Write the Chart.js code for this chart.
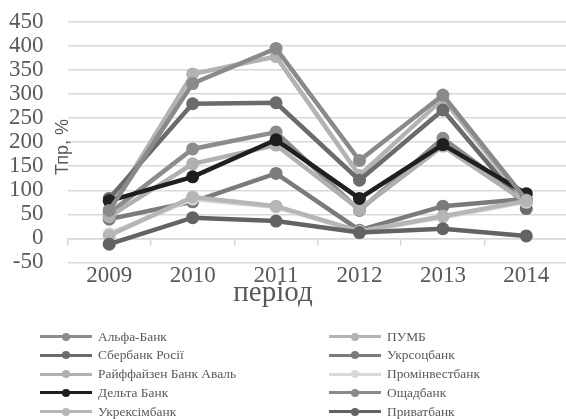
<!DOCTYPE html>
<html><head><meta charset="utf-8">
<script src="https://cdn.jsdelivr.net/npm/chart.js@4"></script>
<style>
html,body{margin:0;padding:0;overflow:hidden;background:#fff;width:566px;height:419px}
#wrap{position:relative;width:568px;height:419px}
#c{position:absolute;left:0;top:0}
#legend{position:absolute;left:0;top:0;width:566px;height:419px;pointer-events:none;font-family:"Liberation Serif","Times New Roman",serif;font-size:13.4px;color:#595959}
.item{position:absolute;height:18px;display:flex;align-items:center;white-space:nowrap}
.sample{position:relative;width:52px;height:10px;margin-right:6px}
.sample .ln{position:absolute;left:0;right:0;top:3.5px;height:3px}
.sample .dt{position:absolute;left:22px;top:1px;width:8px;height:8px;border-radius:50%}
</style></head><body>
<div id="wrap"><canvas id="c" width="568" height="419" style="width:568px;height:419px"></canvas><div id="legend"></div></div>
<script>
// ---- data ----
const years = ['2009','2010','2011','2012','2013','2014'];
const bankNames = ['Альфа-Банк','ПУМБ','Сбербанк Росії','Укрсоцбанк','Райффайзен Банк Аваль','Промінвестбанк','Дельта Банк','Ощадбанк','Укрексімбанк','Приватбанк'];
const alfaBank      = [52, 186, 221, 58, 208, 80];
const pumb          = [60, 342, 378, 131, 290, 75];
const sberbank      = [83, 280, 282, 121, 267, 62];
const ukrsotsbank   = [40, 76, 135, 17, 67, 82];
const raiffeisen    = [45, 155, 194, 60, 192, 75];
const prominvest    = [10, 82, 65, 14, 44, 76];
const deltaBank     = [78, 128, 205, 83, 195, 93];
const oschadbank    = [58, 322, 395, 162, 298, 80];
const ukreximbank   = [6, 86, 67, 15, 46, 78];
const privatbank    = [-12, 43, 36, 12, 20, 5];
const seriesValues = [alfaBank, pumb, sberbank, ukrsotsbank, raiffeisen, prominvest, deltaBank, oschadbank, ukreximbank, privatbank];
const seriesColors = ['#8c8c8c','#b3b3b3','#6b6b6b','#7b7b7b','#b0b0b0','#d9d9d9','#1f1f1f','#8a8a8a','#b6b6b6','#636363'];
const yMin = -50, yMax = 450, yStep = 50;
const yTitle = 'Тпр, %';
const xTitle = 'період';

const datasets = seriesValues.map((vals, i) => ({
  label: bankNames[i],
  data: vals,
  borderColor: seriesColors[i],
  backgroundColor: seriesColors[i],
  pointBackgroundColor: seriesColors[i],
  pointBorderColor: seriesColors[i],
  borderWidth: 4.5,
  pointRadius: 6.5,
  pointBorderWidth: 0,
  tension: 0,
  fill: false,
  order: seriesValues.length - i
}));

const titles = {
  id: 'titles',
  afterDraw(chart) {
    const ctx = chart.ctx;
    ctx.save();
    ctx.fillStyle = '#595959';
    ctx.textAlign = 'center';
    ctx.textBaseline = 'middle';
    ctx.font = '18px "Liberation Sans", Arial, sans-serif';
    ctx.translate(63, 147);
    ctx.rotate(-Math.PI / 2);
    ctx.fillText(yTitle, 0, 0);
    ctx.restore();
    ctx.save();
    ctx.fillStyle = '#595959';
    ctx.textAlign = 'center';
    ctx.textBaseline = 'middle';
    ctx.font = '29px "Liberation Serif", "Times New Roman", serif';
    ctx.fillText(xTitle, 273, 293);
    ctx.restore();
  }
};

const tickFont = { family: '"Liberation Serif", "Times New Roman", serif', size: 23 };

const chart = new Chart(document.getElementById('c'), {
  type: 'line',
  data: { labels: years, datasets },
  plugins: [titles],
  options: {
    responsive: false,
    animation: false,
    events: [],
    layout: { autoPadding: false, padding: { left: 9, top: 22, right: 0, bottom: 129 } },
    plugins: { legend: { display: false }, tooltip: { enabled: false } },
    scales: {
      x: {
        type: 'category', offset: true,
        grid: { display: false, drawTicks: false }, border: { display: false },
        ticks: { font: tickFont, color: '#595959', padding: 0, maxRotation: 0, autoSkip: false },
        afterFit: s => { s.paddingLeft = 0; s.paddingRight = 0; }
      },
      x0: {
        type: 'category', position: { y: 0 }, offset: true,
        grid: { offset: true, drawOnChartArea: false, drawTicks: true, tickLength: 6, color: '#d9d9d9', lineWidth: 1.5 },
        border: { display: true, color: '#d9d9d9', width: 1.5 },
        ticks: { display: false }
      },
      y: {
        min: yMin, max: yMax,
        ticks: { stepSize: yStep, font: tickFont, color: '#595959', padding: 24, autoSkip: false },
        grid: { color: '#d9d9d9', lineWidth: 1.5, drawTicks: false },
        border: { display: false },
        afterFit: s => { s.width = 58.5; s.paddingTop = 0; s.paddingBottom = 0; }
      }
    }
  }
});

// HTML legend (two columns, row-major)
const legend = document.getElementById('legend');
const colX = [40, 329];
const rowY = [336.5, 355.2, 374, 392.7, 411.5];
chart.data.datasets.forEach((ds, i) => {
  const it = document.createElement('div');
  it.className = 'item';
  it.style.left = colX[i % 2] + 'px';
  it.style.top = (rowY[Math.floor(i / 2)] - 9) + 'px';
  const s = document.createElement('div'); s.className = 'sample';
  const ln = document.createElement('div'); ln.className = 'ln'; ln.style.background = ds.borderColor;
  const dt = document.createElement('div'); dt.className = 'dt'; dt.style.background = ds.borderColor;
  s.appendChild(ln); s.appendChild(dt);
  const t = document.createElement('span'); t.textContent = ds.label;
  it.appendChild(s); it.appendChild(t);
  legend.appendChild(it);
});
</script></body></html>
